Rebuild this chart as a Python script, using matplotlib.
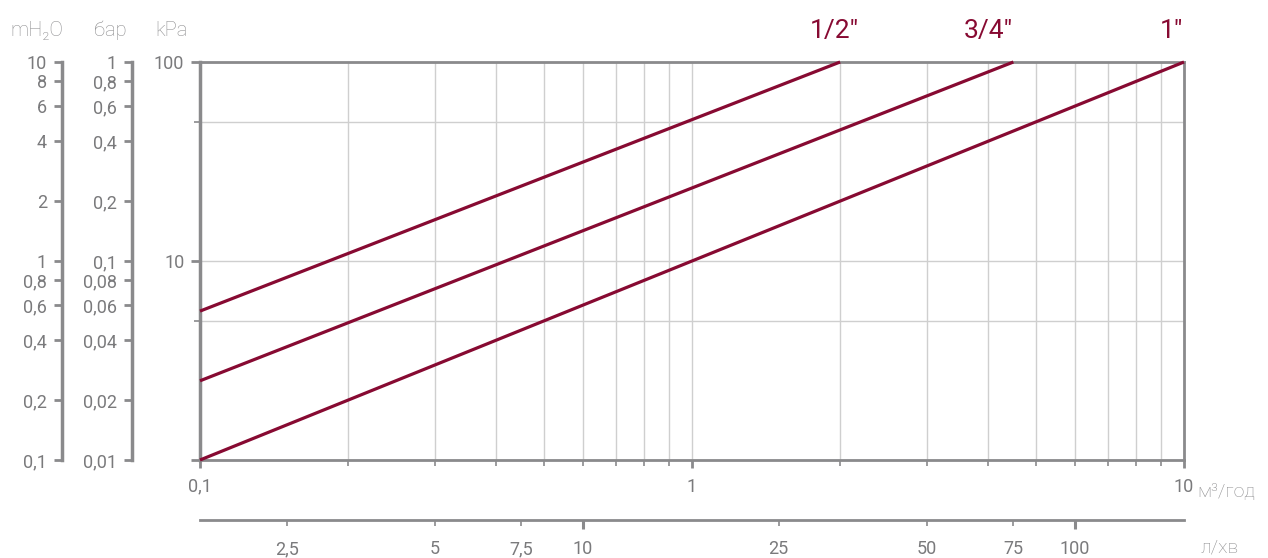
import numpy as np
import matplotlib
matplotlib.use("Agg")
from matplotlib import pyplot as plt
from matplotlib import transforms

plt.rcParams['font.family'] = ['Roboto', 'DejaVu Sans']

# pipe sizes and their pressure-drop lines (flow m3/h, drop kPa)
sizes = ['1/2″', '3/4″', '1″']
flow_start = [0.1, 0.1, 0.1]
flow_end = [2.0, 4.5, 10.0]
drop_start = [5.6, 2.5, 1.0]
drop_end = [100.0, 100.0, 100.0]
label_x = [1.95, 4.0, 9.45]

# tick values / labels
kpa_major = [1, 10, 100]
kpa_major_lbl = ['', '10', '100']
kpa_minor = [5, 50]
bar_major = [0.01, 0.1, 1]
bar_major_lbl = ['0,01', '0,1', '1']
bar_minor = [0.02, 0.04, 0.06, 0.08, 0.2, 0.4, 0.6, 0.8]
bar_minor_lbl = ['0,02', '0,04', '0,06', '0,08', '0,2', '0,4', '0,6', '0,8']
mh2o_major = [0.1, 1, 10]
mh2o_major_lbl = ['0,1', '1', '10']
mh2o_minor = [0.2, 0.4, 0.6, 0.8, 2, 4, 6, 8]
mh2o_minor_lbl = ['0,2', '0,4', '0,6', '0,8', '2', '4', '6', '8']
q_major = [0.1, 1, 10]
q_major_lbl = ['0,1', '1', '10']
q_minor = [0.2, 0.3, 0.4, 0.5, 0.6, 0.7, 0.8, 0.9, 2, 3, 4, 5, 6, 7, 8, 9]
lmin_major = [10, 100]
lmin_major_lbl = ['10', '100']
lmin_minor = [2.5, 5, 7.5, 25, 50, 75]
lmin_minor_lbl = ['2,5', '5', '7,5', '25', '50', '75']

RED = '#870a32'
AXC = '#8a8a8c'
TXT = '#7a7a7c'
LIGHT = '#8e8e90'
GRID = '#cfcfcf'
FS = 13

fig = plt.figure(figsize=(12.68, 5.58), dpi=100)
ax = fig.add_axes([200/1268, 98/558, 984/1268, 398/558])
ax.set_xscale('log')
ax.set_yscale('log')
ax.set_xlim(0.1, 10)
ax.set_ylim(1, 100)

for i in range(len(sizes)):
    ax.plot([flow_start[i], flow_end[i]], [drop_start[i], drop_end[i]],
            color=RED, lw=2.3, solid_capstyle='butt', zorder=3, clip_on=False)

trans = transforms.blended_transform_factory(ax.transData, ax.transAxes)
for i in range(len(sizes)):
    ax.text(label_x[i], 1.06, sizes[i], transform=trans, ha='center',
            va='baseline', color=RED, fontsize=19)

# main axes ticks
ax.set_xticks(q_major, q_major_lbl)
ax.set_xticks(q_minor, [''] * len(q_minor), minor=True)
ax.set_yticks(kpa_major, kpa_major_lbl)
ax.set_yticks(kpa_minor, ['', ''], minor=True)
ax.grid(True, which='both', color=GRID, lw=1.0, zorder=0)
ax.set_axisbelow(True)
for s in ax.spines.values():
    s.set_color(AXC)
    s.set_linewidth(2.0)
ax.spines['left'].set_linewidth(2.5)
ax.tick_params(which='major', length=6.3, width=2.0, color=AXC,
               labelcolor=TXT, labelsize=FS, pad=5)
ax.tick_params(which='minor', length=4, width=1.2, color=AXC)
ax.tick_params(axis='x', which='major', length=5.8, pad=7)

ax.text(1.0135, -0.058, 'м³/год', transform=ax.transAxes, ha='left',
        va='top', color=LIGHT, fontsize=FS + 1, fontweight='light')

# second flow axis in l/min
sx = ax.secondary_xaxis(-60/398, functions=(lambda q: q * 1000 / 60,
                                            lambda l: l * 60 / 1000))
sx.set_xticks(lmin_major, lmin_major_lbl)
sx.set_xticks(lmin_minor, lmin_minor_lbl, minor=True)
sx.spines['bottom'].set_color(AXC)
sx.spines['bottom'].set_linewidth(2.0)
sx.tick_params(which='major', length=6.3, width=2.2, color=AXC,
               labelcolor=TXT, labelsize=FS, pad=8)
sx.tick_params(which='minor', length=4.3, width=1.2, color=AXC,
               labelcolor=TXT, labelsize=FS, pad=10)
ax.text(1.0165, -0.196, 'л/хв', transform=ax.transAxes, ha='left',
        va='top', color=LIGHT, fontsize=FS + 1, fontweight='light')

# bar and mH2O axes
sb = ax.secondary_yaxis(-68/984, functions=(lambda p: p / 100,
                                            lambda b: b * 100))
sb.set_yticks(bar_major, bar_major_lbl)
sb.set_yticks(bar_minor, bar_minor_lbl, minor=True)
sm = ax.secondary_yaxis(-138/984, functions=(lambda p: p / 10,
                                             lambda m: m * 10))
sm.set_yticks(mh2o_major, mh2o_major_lbl)
sm.set_yticks(mh2o_minor, mh2o_minor_lbl, minor=True)
for sa in (sb, sm):
    sa.spines['left'].set_color(AXC)
    sa.spines['left'].set_linewidth(2.5)
    sa.tick_params(which='both', length=5.8, width=2.0, color=AXC,
                   labelcolor=TXT, labelsize=FS, pad=5)

# unit headers
for xp, t in [(37, 'mH₂O'), (110, 'бар'), (171, 'kPa')]:
    fig.text(xp / 1268, 1 - 30 / 558, t, ha='center', va='center',
             color=LIGHT, fontsize=FS + 1.5, fontweight='light')

fig.savefig('out.png', dpi=100)
